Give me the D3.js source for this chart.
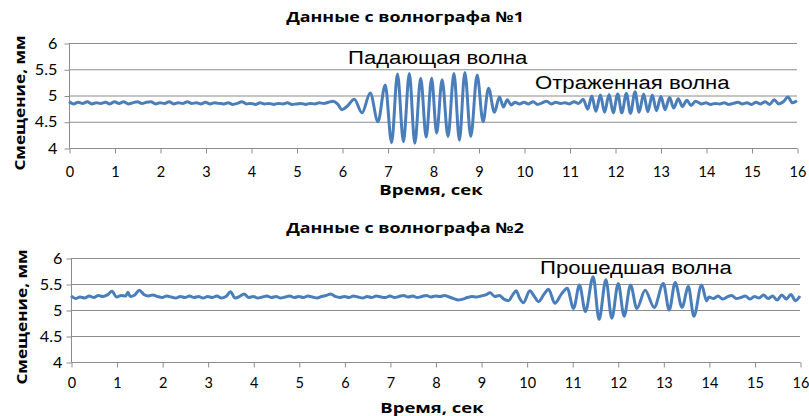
<!DOCTYPE html>
<html>
<head>
<meta charset="utf-8">
<script src="https://cdn.jsdelivr.net/npm/d3@7"></script>
<style>
  body { margin: 0; background: #fff; }
</style>
</head>
<body>
<div id="chart"></div>
<script>
// tick labels
var xTicks = [0, 1, 2, 3, 4, 5, 6, 7, 8, 9, 10, 11, 12, 13, 14, 15, 16];
var yTicks = [4, 4.5, 5, 5.5, 6];

// волнограф №1: [время, сек; смещение, мм]
var gauge1 = [
  [0,4.88],[0.1,4.84],[0.2,4.87],[0.3,4.85],[0.4,4.88],[0.5,4.84],[0.6,4.86],[0.7,4.85],[0.8,4.87],[0.9,4.84],
  [1.0,4.88],[1.1,4.85],[1.2,4.88],[1.3,4.84],[1.4,4.86],[1.5,4.88],[1.6,4.85],[1.7,4.87],[1.8,4.88],[1.9,4.84],
  [2.0,4.86],[2.1,4.85],[2.2,4.88],[2.3,4.84],[2.4,4.86],[2.5,4.85],[2.6,4.88],[2.7,4.85],[2.8,4.86],[2.9,4.84],
  [3.0,4.87],[3.1,4.84],[3.2,4.86],[3.3,4.85],[3.4,4.84],[3.5,4.86],[3.6,4.83],[3.7,4.85],[3.8,4.88],[3.9,4.84],
  [4.0,4.85],[4.1,4.83],[4.2,4.86],[4.3,4.84],[4.4,4.85],[4.5,4.83],[4.6,4.85],[4.7,4.84],[4.8,4.86],[4.9,4.83],
  [5.0,4.84],[5.1,4.85],[5.2,4.83],[5.3,4.85],[5.4,4.84],[5.5,4.86],[5.6,4.85],[5.7,4.87],[5.8,4.89],[5.9,4.84],
  // падающая волна
  [6.0,4.73],[6.12,4.80],[6.27,4.93],[6.44,4.67],[6.62,5.05],[6.79,4.50],[6.95,5.20],[7.09,4.10],[7.22,5.41],
  [7.35,4.12],[7.48,5.42],[7.60,4.09],[7.73,5.33],[7.85,4.21],[7.97,5.33],[8.08,4.28],[8.20,5.30],[8.33,4.22],
  [8.46,5.42],[8.58,4.15],[8.70,5.44],[8.83,4.22],[8.97,5.39],[9.10,4.50],[9.22,5.14],[9.35,4.68],[9.46,4.97],
  [9.55,4.78],[9.63,4.92],[9.72,4.82],[9.8,4.87],[9.9,4.84],
  [10.0,4.87],[10.1,4.84],[10.2,4.88],[10.3,4.83],[10.4,4.86],[10.5,4.89],[10.6,4.84],[10.7,4.87],[10.8,4.85],
  [10.9,4.86],[11.0,4.84],[11.1,4.88],[11.2,4.85],
  // отраженная волна
  [11.3,4.93],[11.4,4.74],[11.49,4.99],[11.58,4.70],[11.68,5.01],[11.77,4.68],[11.87,5.02],[11.96,4.67],
  [12.06,5.03],[12.15,4.67],[12.25,5.04],[12.34,4.66],[12.44,5.07],[12.53,4.68],[12.63,5.03],[12.72,4.69],
  [12.82,5.01],[12.91,4.71],[13.01,4.98],[13.10,4.73],[13.20,4.96],[13.29,4.76],[13.39,4.94],[13.48,4.79],
  [13.58,4.91],[13.67,4.81],[13.77,4.89],
  [13.9,4.84],[14.0,4.86],[14.1,4.83],[14.2,4.85],[14.3,4.84],[14.4,4.86],[14.5,4.83],[14.6,4.85],[14.7,4.87],
  [14.8,4.84],[14.9,4.86],[15.0,4.83],[15.1,4.87],[15.2,4.84],[15.3,4.88],[15.4,4.83],[15.5,4.92],[15.6,4.84],
  [15.7,4.88],[15.8,4.97],[15.9,4.86],[16.0,4.90]
];

// волнограф №2
var gauge2 = [
  [0,5.27],[0.1,5.22],[0.2,5.25],[0.3,5.23],[0.4,5.27],[0.5,5.24],[0.6,5.28],[0.7,5.26],[0.8,5.29],[0.9,5.36],
  [1.0,5.25],[1.1,5.28],[1.2,5.27],[1.25,5.34],[1.3,5.26],[1.4,5.29],[1.5,5.38],[1.6,5.30],[1.7,5.27],[1.8,5.29],
  [1.9,5.26],[2.0,5.24],[2.1,5.27],[2.2,5.25],[2.3,5.23],[2.4,5.26],[2.5,5.24],[2.6,5.27],[2.7,5.24],[2.8,5.26],
  [2.9,5.23],[3.0,5.26],[3.1,5.24],[3.2,5.27],[3.3,5.23],[3.4,5.26],[3.5,5.35],[3.6,5.23],[3.7,5.26],[3.8,5.31],
  [3.9,5.24],[4.0,5.26],[4.1,5.23],[4.2,5.25],[4.3,5.27],[4.4,5.24],[4.5,5.26],[4.6,5.23],[4.7,5.25],[4.8,5.27],
  [4.9,5.24],[5.0,5.26],[5.1,5.24],[5.2,5.27],[5.3,5.25],[5.4,5.23],[5.5,5.26],[5.6,5.28],[5.7,5.31],[5.8,5.26],
  [5.9,5.24],[6.0,5.26],[6.1,5.24],[6.2,5.27],[6.3,5.25],[6.4,5.23],[6.5,5.26],[6.6,5.24],[6.7,5.27],[6.8,5.25],
  [6.9,5.24],[7.0,5.27],[7.1,5.24],[7.2,5.26],[7.3,5.28],[7.4,5.25],[7.5,5.27],[7.6,5.24],[7.7,5.26],[7.8,5.28],
  [7.9,5.25],[8.0,5.27],[8.1,5.26],[8.2,5.28],[8.3,5.25],[8.4,5.22],[8.5,5.19],[8.6,5.21],[8.7,5.24],[8.8,5.26],
  [8.9,5.25],[9.0,5.27],[9.1,5.29],[9.2,5.33],[9.3,5.26],[9.4,5.28],[9.5,5.21],[9.6,5.18],[9.7,5.30],[9.77,5.37],
  [9.85,5.22],[9.93,5.14],
  // прошедшая волна
  [10.07,5.37],[10.17,5.26],[10.26,5.16],[10.38,5.30],[10.48,5.40],[10.62,5.13],[10.76,5.30],[10.89,5.42],
  [11.03,5.03],[11.16,5.48],[11.29,4.97],[11.46,5.64],[11.59,4.82],[11.74,5.58],[11.87,4.84],[12.01,5.51],
  [12.14,4.88],[12.28,5.48],[12.42,5.03],[12.60,5.38],[12.80,5.05],[13.0,5.51],[13.13,5.0],[13.26,5.53],
  [13.41,5.05],[13.55,5.45],[13.67,4.88],[13.84,5.48],[13.95,5.18],
  [14.0,5.25],[14.1,5.22],[14.2,5.27],[14.3,5.21],[14.4,5.25],[14.5,5.28],[14.6,5.22],[14.7,5.24],[14.8,5.27],
  [14.9,5.21],[15.0,5.26],[15.1,5.23],[15.2,5.29],[15.3,5.22],[15.4,5.27],[15.5,5.19],[15.6,5.29],[15.7,5.21],
  [15.8,5.30],[15.9,5.18],[16.0,5.27]
];

var W = 809, H = 416;
var lineColor = '#4a7ebb';
var gridColor = '#8c8c8c';
var boldFont = '"Open Sans", "DejaVu Sans", sans-serif';
var tickFont = 'Lato, "Open Sans", sans-serif';
var sx = 1.23; // text in the picture is wide

var svg = d3.select('#chart').append('svg')
  .attr('width', W)
  .attr('height', H)
  .style('display', 'block');

function wideText(g, str, x, y, rot) {
  return g.append('text')
    .attr('transform', 'translate(' + x + ',' + y + ')' + (rot ? ' rotate(-90)' : '') + ' scale(' + sx + ',1)')
    .text(str);
}

function drawPanel(p) {
  var x = d3.scaleLinear().domain([0, 16]).range([p.left, p.right]);
  var y = d3.scaleLinear().domain([4, 6]).range([p.bottom, p.top]);
  var g = svg.append('g');

  // gridlines
  g.selectAll('line.grid')
    .data(yTicks.slice(1))
    .enter().append('line')
    .attr('class', 'grid')
    .attr('x1', p.left).attr('x2', p.right)
    .attr('y1', function(d) { return y(d) + 0.5; })
    .attr('y2', function(d) { return y(d) + 0.5; })
    .attr('stroke', gridColor)
    .attr('stroke-width', 1);

  var yAxis = g.append('g')
    .attr('transform', 'translate(' + (p.left + 0.5) + ',0.5)')
    .call(d3.axisLeft(y).tickValues(yTicks).tickSize(5).tickPadding(p.yPad)
      .tickFormat(function(d) { return String(d); }));

  var xAxis = g.append('g')
    .attr('transform', 'translate(0.5,' + (p.bottom + 0.5) + ')')
    .call(d3.axisBottom(x).tickValues(xTicks).tickSize(5).tickPadding(p.xPad)
      .tickFormat(function(d) { return String(d); }));

  [yAxis, xAxis].forEach(function(a) {
    a.selectAll('path, line').attr('stroke', gridColor);
    a.select('path').attr('d', a === yAxis
      ? 'M0,' + p.top + 'V' + p.bottom
      : 'M' + p.left + ',0H' + p.right);
    a.selectAll('text')
      .attr('fill', '#000')
      .style('font-family', tickFont)
      .style('font-size', '14.5px');
  });
  yAxis.selectAll('text').each(function() {
    var t = d3.select(this);
    t.attr('transform', 'translate(' + t.attr('x') + ',0) scale(1.12,1)').attr('x', 0);
  });

  var line = d3.line()
    .x(function(d) { return x(d[0]); })
    .y(function(d) { return y(d[1]); })
    .curve(d3.curveMonotoneX);

  g.append('path')
    .datum(p.data)
    .attr('d', line)
    .attr('fill', 'none')
    .attr('stroke', lineColor)
    .attr('stroke-width', 3)
    .attr('stroke-linejoin', 'round');

  // titles
  wideText(g, p.title, p.titleX, p.titleY)
    .attr('text-anchor', 'middle')
    .style('font-family', boldFont)
    .style('font-weight', 'bold')
    .style('font-size', '14.5px');

  wideText(g, 'Время, сек', p.xTitleX, p.xTitleY)
    .attr('text-anchor', 'middle')
    .style('font-family', boldFont)
    .style('font-weight', 'bold')
    .style('font-size', '15px');

  wideText(g, 'Смещение, мм', p.yTitleX, p.yTitleY, true)
    .attr('text-anchor', 'middle')
    .style('font-family', boldFont)
    .style('font-weight', 'bold')
    .style('font-size', '14px');

  p.notes.forEach(function(n) {
    wideText(g, n.text, n.x, n.y)
      .style('font-family', '"Liberation Sans", Arial, sans-serif')
      .style('font-size', '18px');
  });
}

drawPanel({
  left: 69, right: 797, top: 43, bottom: 148,
  yPad: 7, xPad: 13,
  data: gauge1,
  title: 'Данные с волнографа №1', titleX: 405, titleY: 22,
  xTitleX: 431, xTitleY: 195,
  yTitleX: 25, yTitleY: 103,
  notes: [
    { text: 'Падающая волна', x: 348, y: 64 },
    { text: 'Отраженная волна', x: 535, y: 89 }
  ]
});

drawPanel({
  left: 71, right: 800, top: 258, bottom: 362,
  yPad: 4, xPad: 10,
  data: gauge2,
  title: 'Данные с волнографа №2', titleX: 405, titleY: 233,
  xTitleX: 432, xTitleY: 413,
  yTitleX: 27, yTitleY: 317,
  notes: [
    { text: 'Прошедшая волна', x: 540, y: 274 }
  ]
});
</script>
</body>
</html>
